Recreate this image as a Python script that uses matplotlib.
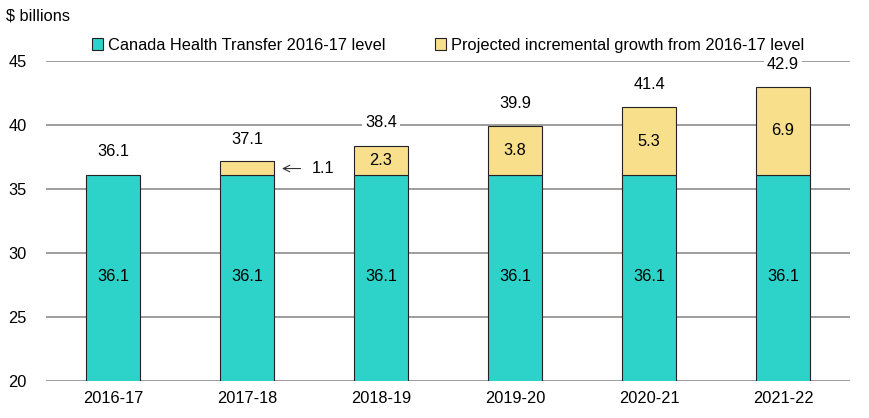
import matplotlib
matplotlib.use('Agg')
import matplotlib.pyplot as plt
import numpy as np

plt.rcParams['font.family'] = ['Liberation Sans', 'DejaVu Sans']
plt.rcParams['font.size'] = 11.8

years = ['2016-17', '2017-18', '2018-19', '2019-20', '2020-21', '2021-22']
base = [36.1, 36.1, 36.1, 36.1, 36.1, 36.1]
growth = [0.0, 1.1, 2.3, 3.8, 5.3, 6.9]
totals = [36.1, 37.1, 38.4, 39.9, 41.4, 42.9]

teal = '#2DD2C9'
yellow = '#F8DF8C'

fig = plt.figure(figsize=(8.7, 4.18), dpi=100)
ax = fig.add_axes([0.053, 0.0885, 0.924, 0.7655])

x = np.arange(len(years))
w = 0.4
ax.bar(x, base, w, color=teal, edgecolor='#222222', linewidth=0.8,
       label='Canada Health Transfer 2016-17 level', zorder=3)
ax.bar(x[1:], growth[1:], w, bottom=base[1:], color=yellow, edgecolor='#222222',
       linewidth=0.8, label='Projected incremental growth from 2016-17 level', zorder=3)

ax.set_ylim(20, 45)
ax.set_xlim(-0.5, len(years) - 0.5)
ax.set_yticks([20, 25, 30, 35, 40, 45])
ax.set_xticks(x)
ax.set_xticklabels(years)
ax.yaxis.grid(True, color='#8c8c8c', linewidth=1.2, zorder=0)
for s in ['top', 'right', 'left', 'bottom']:
    ax.spines[s].set_visible(False)
ax.tick_params(length=0, pad=7)
ax.tick_params(axis='y', pad=14)

for i in range(len(years)):
    ax.text(x[i], 28.2, f'{base[i]:.1f}', ha='center', va='center', zorder=4)
    ax.text(x[i], totals[i] + 1.8, f'{totals[i]:.1f}', ha='center', va='center',
            zorder=4, bbox=dict(facecolor='white', edgecolor='none', pad=2))
    if i >= 2:
        ax.text(x[i], base[i] + growth[i] / 2, f'{growth[i]:.1f}', ha='center',
                va='center', zorder=4)

ax.annotate('', xy=(x[1] + 0.24, 36.6), xytext=(x[1] + 0.42, 36.6),
            arrowprops=dict(arrowstyle='->', color='#333333', lw=0.8), zorder=4)
ax.text(x[1] + 0.48, 36.6, f'{growth[1]:.1f}', ha='left', va='center', zorder=4)

fig.text(0.007, 0.962, '$ billions', ha='left', va='center')
ax.legend(loc='lower center', bbox_to_anchor=(0.5, 1.0), ncol=2, frameon=False,
          handlelength=0.7, handleheight=0.7, handletextpad=0.3, columnspacing=3.0,
          borderaxespad=0.1)

fig.savefig('out.png', dpi=100)
